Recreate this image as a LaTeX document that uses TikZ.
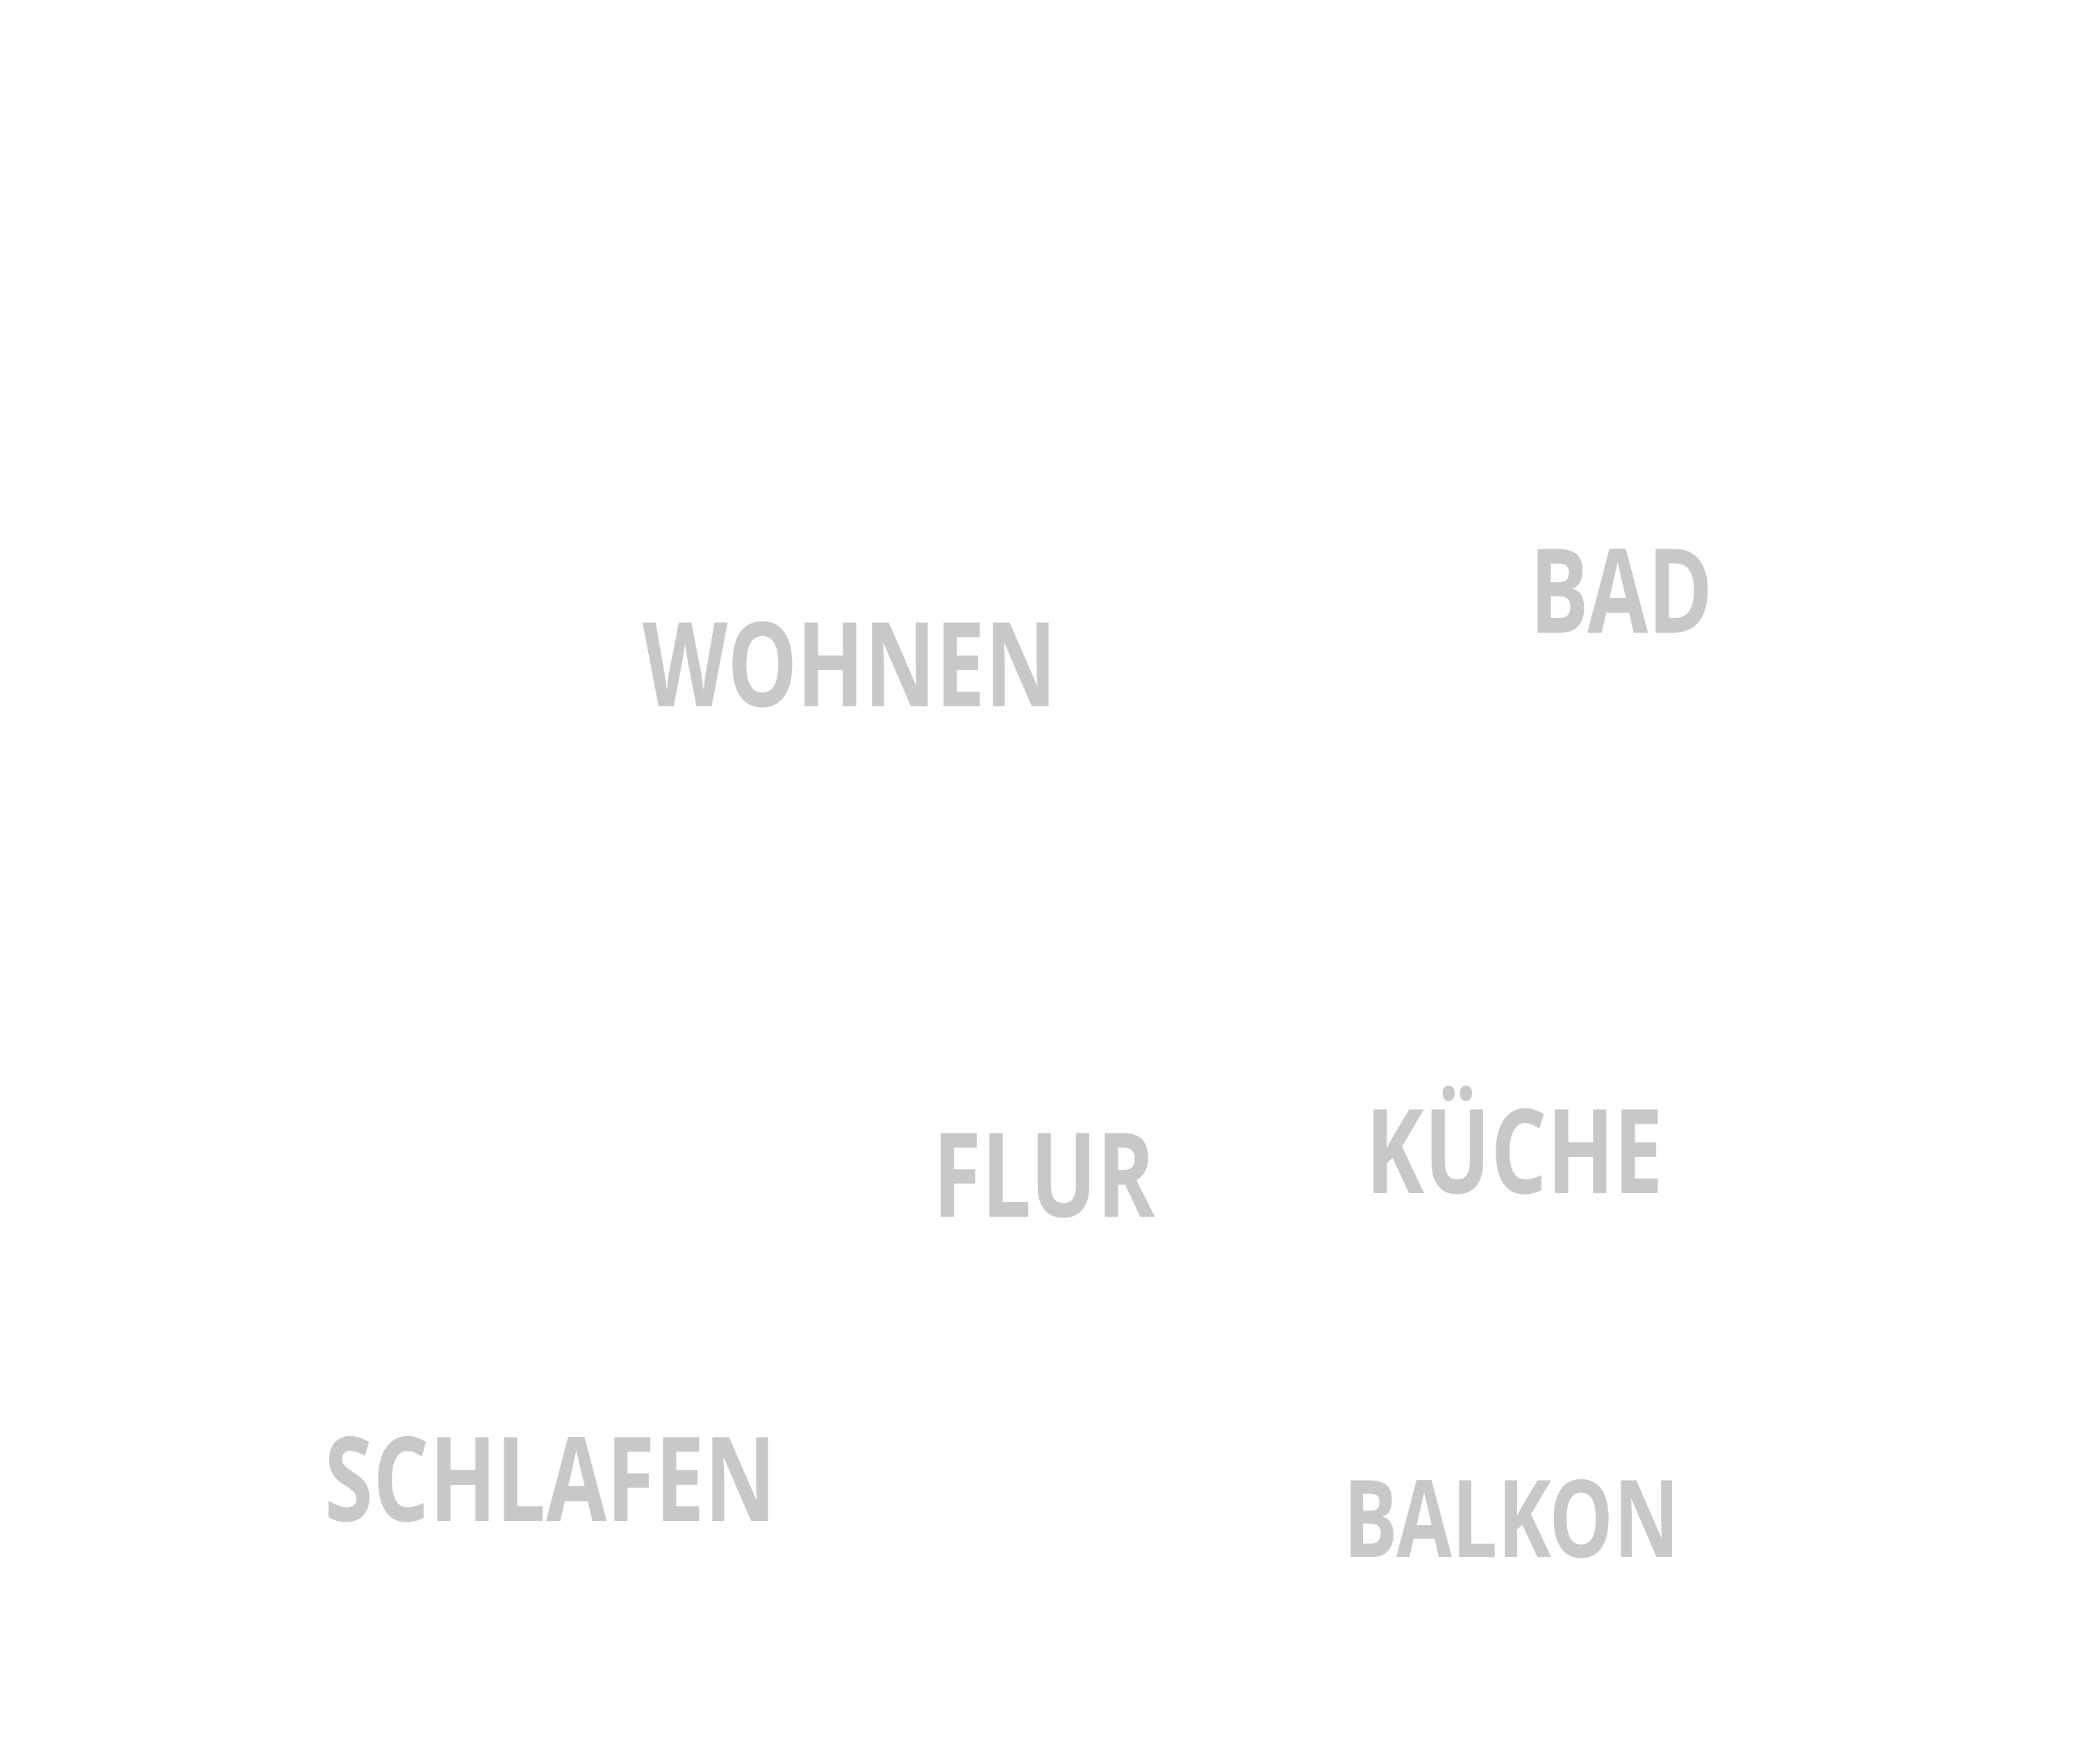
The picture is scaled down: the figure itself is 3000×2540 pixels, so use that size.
\documentclass[tikz,border=0pt]{standalone}
\usepackage{fontspec}
\newfontfamily\roomfont[FakeStretch=0.75]{Open Sans}
\definecolor{roomgray}{RGB}{200,200,200}

\begin{document}
\begin{tikzpicture}[x=0.01cm, y=-0.01cm,
  room/.style={text=roomgray, inner sep=0, anchor=base west, font=\roomfont\bfseries\fontsize{48}{48}\selectfont}]

\useasboundingbox (0,0) rectangle (3000,2540);

\node (wohnen) at (925, 1017) [room] {WOHNEN};
\node (bad) at (2202, 911) [room] {BAD};

\node (flur) at (1343, 1752) [room] {FLUR};
\node (kueche) at (1966, 1718) [room] {KÜCHE};

\node (schlafen) at (467, 2190) [room] {SCHLAFEN};
\node (balkon) at (1934, 2242) [room, font=\roomfont\bfseries\fontsize{44}{44}\selectfont] {BALKON};

\end{tikzpicture}
\end{document}
